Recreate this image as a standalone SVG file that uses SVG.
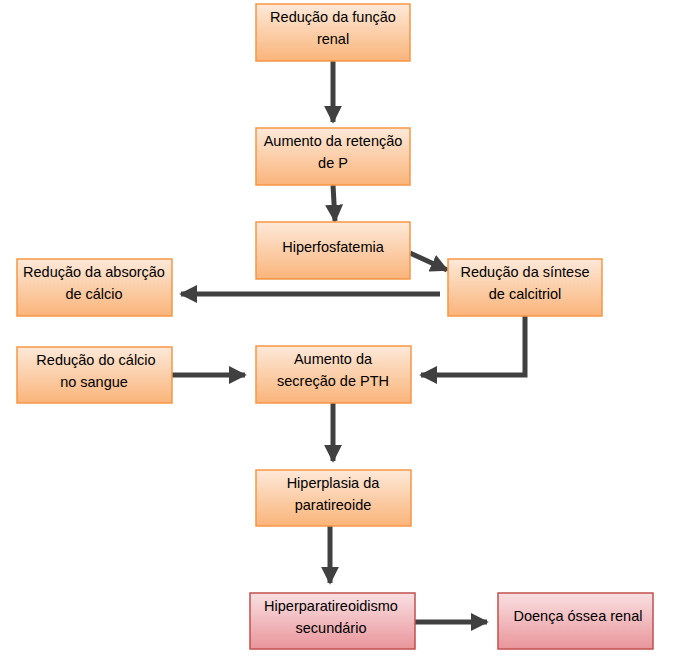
<svg xmlns="http://www.w3.org/2000/svg" width="673" height="659" viewBox="0 0 673 659">
<defs>
<linearGradient id="go" x1="0" y1="0" x2="0" y2="1">
<stop offset="0" stop-color="#fde9d9"/>
<stop offset="1" stop-color="#fab47a"/>
</linearGradient>
<linearGradient id="gp" x1="0" y1="0" x2="0" y2="1">
<stop offset="0" stop-color="#f9e0e2"/>
<stop offset="1" stop-color="#e9959b"/>
</linearGradient>
<marker id="ah" viewBox="0 0 10 10" refX="9" refY="5" markerWidth="3.6" markerHeight="3.6" orient="auto" markerUnits="strokeWidth">
<path d="M0,0 L10,5 L0,10 z" fill="#404040"/>
</marker>
</defs>
<style>
.o{fill:url(#go);stroke:#f79646;stroke-width:1.5}
.p{fill:url(#gp);stroke:#c0504d;stroke-width:1.5}
text{font-family:"Liberation Sans",Arial,sans-serif;font-size:14.5px;fill:#000;text-anchor:middle}
.c{fill:none;stroke:#404040;stroke-width:5;marker-end:url(#ah)}
</style>
<rect width="673" height="659" fill="#fff"/>
<g id="connectors">
<path class="c" d="M333,61 V122"/>
<path class="c" d="M333,185 L335,221"/>
<path class="c" d="M410,253 L447,270"/>
<path class="c" d="M440,294 H181"/>
<path class="c" d="M525,316 V375 H421"/>
<path class="c" d="M172,375 H245"/>
<path class="c" d="M333,403 V461"/>
<path class="c" d="M330,526 V583"/>
<path class="c" d="M415,622 H487"/>
</g>
<g id="n1"><rect class="o" x="256" y="4" width="154" height="57"/><text x="333" y="22">Redução da função</text><text x="333" y="44">renal</text></g>
<g id="n2"><rect class="o" x="256" y="128" width="154" height="57"/><text x="333" y="146">Aumento da retenção</text><text x="333" y="168">de P</text></g>
<g id="n3"><rect class="o" x="256" y="222" width="154" height="57"/><text x="333" y="252">Hiperfosfatemia</text></g>
<g id="n4"><rect class="o" x="448" y="259" width="154" height="57"/><text x="525" y="277">Redução da síntese</text><text x="525" y="299">de calcitriol</text></g>
<g id="n5"><rect class="o" x="17" y="259" width="155" height="57"/><text x="94" y="277">Redução da absorção</text><text x="94" y="299">de cálcio</text></g>
<g id="n6"><rect class="o" x="17" y="347" width="155" height="56"/><text x="96" y="365">Redução do cálcio</text><text x="94" y="387">no sangue</text></g>
<g id="n7"><rect class="o" x="256" y="346" width="155" height="57"/><text x="333" y="364">Aumento da</text><text x="333" y="386">secreção de PTH</text></g>
<g id="n8"><rect class="o" x="256" y="470" width="155" height="56"/><text x="333" y="488">Hiperplasia da</text><text x="333" y="510">paratireoide</text></g>
<g id="n9"><rect class="p" x="250" y="593" width="165" height="56"/><text x="331" y="611">Hiperparatireoidismo</text><text x="331" y="633">secundário</text></g>
<g id="n10"><rect class="p" x="498" y="593" width="155" height="56"/><text x="578" y="621">Doença óssea renal</text></g>
</svg>
